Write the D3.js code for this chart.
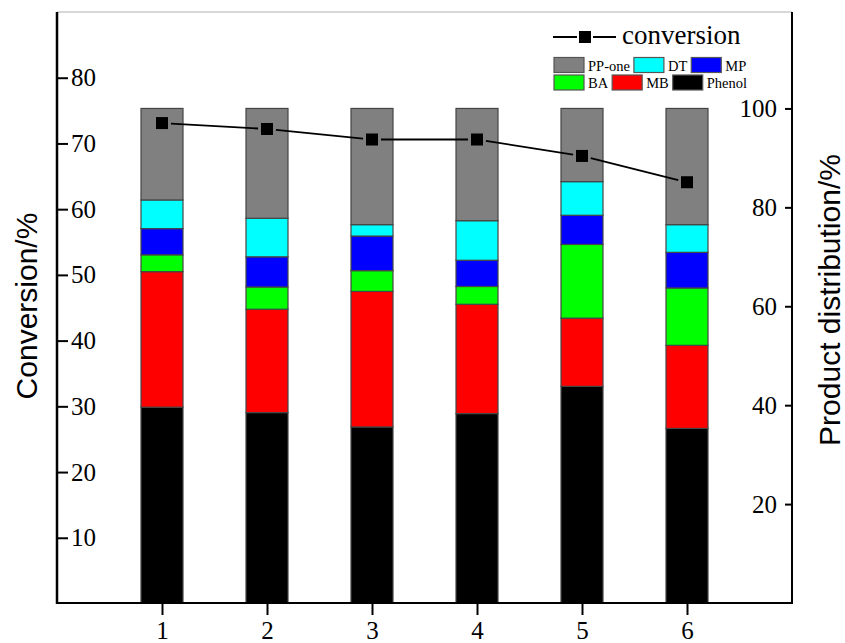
<!DOCTYPE html>
<html>
<head>
<meta charset="utf-8">
<script src="https://cdn.jsdelivr.net/npm/d3@7"></script>
<style>
  body { margin: 0; background: #fff; }
  svg { display: block; }
</style>
</head>
<body>
<svg></svg>
<script>
// data
const categories = [1, 2, 3, 4, 5, 6];
const phenol = [39.6, 38.5, 35.6, 38.3, 43.8, 35.3];
const mb     = [27.4, 20.9, 27.4, 22.1, 13.8, 16.8];
const ba     = [3.4, 4.5, 4.2, 3.6, 14.9, 11.6];
const mp     = [5.3, 6.1, 7.0, 5.3, 5.9, 7.2];
const dt     = [5.8, 7.8, 2.3, 8.0, 6.8, 5.6];
const ppone  = [18.5, 22.2, 23.5, 22.7, 14.8, 23.5];
const conversion = [73.1, 72.2, 70.6, 70.6, 68.1, 64.1];

const leftTicks = [10, 20, 30, 40, 50, 60, 70, 80];
const rightTicks = [20, 40, 60, 80, 100];

const keys = ['Phenol', 'MB', 'BA', 'MP', 'DT', 'PP-one'];
const colors = {'Phenol': '#000000', 'MB': '#ff0000', 'BA': '#00ff00',
                'MP': '#0000ff', 'DT': '#00ffff', 'PP-one': '#808080'};

const serif = '"Liberation Serif", "Times New Roman", serif';
const sans = '"Liberation Sans", Arial, sans-serif';

let width = 845, height = 643;
let margin = {top: 12, bottom: 603, left: 57, right: 792};

let table = categories.map((c, i) => ({
    cat: c, 'Phenol': phenol[i], 'MB': mb[i], 'BA': ba[i],
    'MP': mp[i], 'DT': dt[i], 'PP-one': ppone[i]
}));

let svg = d3.select('svg')
    .attr('width', width)
    .attr('height', height);

let xScale = d3.scaleLinear().domain([0, 7]).range([margin.left, margin.right]);
let yLeft = d3.scaleLinear().domain([0, 90]).range([603.5, margin.top]);
let yRight = d3.scaleLinear().domain([0, 119.5]).range([margin.bottom, margin.top]);

// top border
svg.append('line')
    .attr('x1', margin.left).attr('x2', margin.right)
    .attr('y1', margin.top).attr('y2', margin.top)
    .attr('stroke', '#b0b0b0').attr('stroke-width', 1);

// stacked bars
let stacked = d3.stack().keys(keys)(table);
let barW = xScale(0.4) - xScale(0);

svg.append('g').selectAll('g')
    .data(stacked)
    .enter()
    .append('g')
    .attr('fill', d => colors[d.key])
    .selectAll('rect')
    .data(d => d)
    .enter()
    .append('rect')
    .attr('x', d => xScale(d.data.cat) - barW / 2)
    .attr('y', d => yRight(d[1]))
    .attr('width', barW)
    .attr('height', d => yRight(d[0]) - yRight(d[1]))
    .attr('stroke', '#454545')
    .attr('stroke-width', 1.2);

// conversion line, with gaps round the markers
let pts = categories.map((c, i) => [xScale(c), yLeft(conversion[i])]);
let gap = 9;
for (let i = 0; i < pts.length - 1; i++) {
    let [x1, y1] = pts[i], [x2, y2] = pts[i + 1];
    let len = Math.hypot(x2 - x1, y2 - y1);
    let ux = (x2 - x1) / len, uy = (y2 - y1) / len;
    svg.append('line')
        .attr('x1', x1 + ux * gap).attr('y1', y1 + uy * gap)
        .attr('x2', x2 - ux * gap).attr('y2', y2 - uy * gap)
        .attr('stroke', 'black').attr('stroke-width', 1.8);
}
svg.append('g').selectAll('rect')
    .data(pts)
    .enter()
    .append('rect')
    .attr('x', d => d[0] - 6)
    .attr('y', d => d[1] - 6)
    .attr('width', 12)
    .attr('height', 12)
    .attr('fill', 'black');

// axes
let leftAxis = svg.append('g')
    .attr('transform', `translate(${margin.left},0)`)
    .call(d3.axisRight(yLeft).tickValues(leftTicks).tickFormat(d3.format('d'))
        .tickSize(11).tickPadding(3));

let rightAxis = svg.append('g')
    .attr('transform', `translate(${margin.right},0)`)
    .call(d3.axisLeft(yRight).tickValues(rightTicks).tickFormat(d3.format('d'))
        .tickSize(7).tickPadding(8));

let bottomAxis = svg.append('g')
    .attr('transform', `translate(0,${margin.bottom})`)
    .call(d3.axisBottom(xScale).tickValues(categories).tickFormat(d3.format('d'))
        .tickSize(12).tickPadding(6));

[leftAxis, rightAxis, bottomAxis].forEach(a => {
    a.attr('font-family', serif).attr('font-size', 25);
    a.select('.domain').remove();
    a.selectAll('.tick line').attr('stroke', 'black').attr('stroke-width', 2);
    a.selectAll('.tick text')
        .attr('font-family', serif)
        .attr('font-size', 25)
        .attr('fill', 'black');
});

// axis lines
svg.append('line')
    .attr('x1', margin.left).attr('x2', margin.left)
    .attr('y1', margin.top).attr('y2', margin.bottom + 1)
    .attr('stroke', 'black').attr('stroke-width', 2.5);
svg.append('line')
    .attr('x1', margin.right).attr('x2', margin.right)
    .attr('y1', margin.top).attr('y2', margin.bottom + 1)
    .attr('stroke', 'black').attr('stroke-width', 2);
svg.append('line')
    .attr('x1', margin.left - 1).attr('x2', margin.right + 1)
    .attr('y1', margin.bottom).attr('y2', margin.bottom)
    .attr('stroke', 'black').attr('stroke-width', 2);

// axis titles
svg.append('text')
    .attr('transform', 'translate(37,306) rotate(-90)')
    .attr('text-anchor', 'middle')
    .attr('font-family', sans)
    .attr('font-size', 30)
    .text('Conversion/%');

svg.append('text')
    .attr('transform', 'translate(840,300) rotate(-90)')
    .attr('text-anchor', 'middle')
    .attr('font-family', sans)
    .attr('font-size', 30)
    .text('Product distribution/%');

// legend: conversion
let legend = svg.append('g');
legend.append('line')
    .attr('x1', 553).attr('x2', 577).attr('y1', 37).attr('y2', 37)
    .attr('stroke', 'black').attr('stroke-width', 2);
legend.append('line')
    .attr('x1', 593).attr('x2', 616).attr('y1', 37).attr('y2', 37)
    .attr('stroke', 'black').attr('stroke-width', 2);
legend.append('rect')
    .attr('x', 579).attr('y', 31).attr('width', 12).attr('height', 12)
    .attr('fill', 'black');
legend.append('text')
    .attr('x', 622).attr('y', 44)
    .attr('font-family', serif)
    .attr('font-size', 27)
    .text('conversion');

// legend: product boxes, flowing left to right
let rows = [['PP-one', 'DT', 'MP'], ['BA', 'MB', 'Phenol']];
rows.forEach((row, r) => {
    let cx = 554;
    let y0 = r === 0 ? 57.5 : 75;
    row.forEach(k => {
        legend.append('rect')
            .attr('x', cx).attr('y', y0)
            .attr('width', 30).attr('height', 15)
            .attr('fill', colors[k])
            .attr('stroke', '#555').attr('stroke-width', 1.2);
        let t = legend.append('text')
            .attr('x', cx + 34).attr('y', y0 + 13)
            .attr('font-family', serif)
            .attr('font-size', 14.5)
            .text(k);
        cx = cx + 34 + t.node().getComputedTextLength() + 4;
    });
});
</script>
</body>
</html>
